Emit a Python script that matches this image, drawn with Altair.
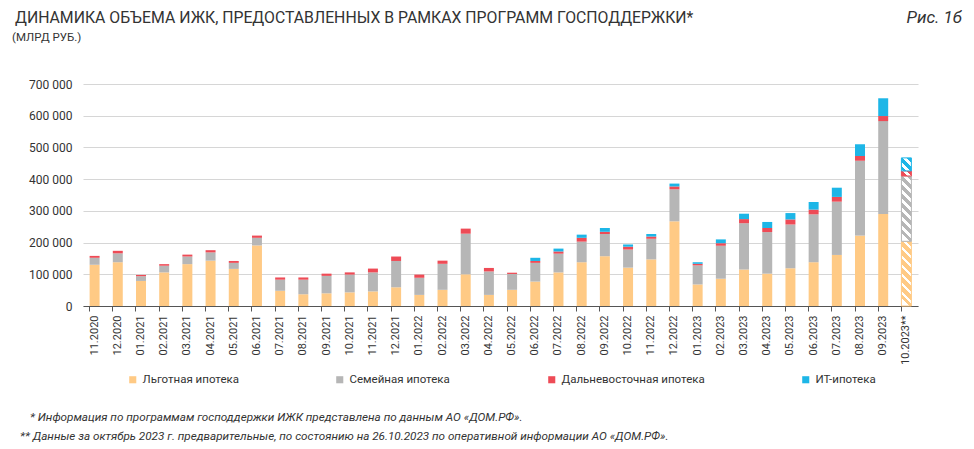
import altair as alt
import pandas as pd

months = ['11.2020', '12.2020',
          '01.2021', '02.2021', '03.2021', '04.2021', '05.2021', '06.2021',
          '07.2021', '08.2021', '09.2021', '10.2021', '11.2021', '12.2021',
          '01.2022', '02.2022', '03.2022', '04.2022', '05.2022', '06.2022',
          '07.2022', '08.2022', '09.2022', '10.2022', '11.2022', '12.2022',
          '01.2023', '02.2023', '03.2023', '04.2023', '05.2023', '06.2023',
          '07.2023', '08.2023', '09.2023', '10.2023**']

series_names = ['Льготная ипотека', 'Семейная ипотека',
                'Дальневосточная ипотека', 'ИТ-ипотека']
colors = ['#FFCA85', '#B6B6B6', '#EE4B56', '#1DB6E7']

lgot = [130, 138, 79, 106, 132, 143, 117, 191, 48, 37, 40, 43, 46, 59, 35, 51, 100, 35,
        51, 77, 106, 138, 157, 121, 147, 267, 68, 86, 115, 102, 119, 138, 161, 222, 290, 204]
semya = [22, 28, 15, 21, 24, 26, 19, 24, 35, 46, 55, 56, 60, 83, 54, 82, 128, 74,
         50, 59, 59, 65, 70, 57, 65, 101, 60, 104, 146, 131, 138, 151, 168, 236, 293, 206]
dalvost = [6, 8, 4, 5, 6, 7, 6, 7, 7, 7, 7, 7, 12, 14, 10, 10, 16, 11,
           4, 6, 7, 12, 7, 9, 7, 9, 5, 8, 13, 13, 16, 15, 15, 15, 16, 16]
it_ipoteka = [0, 0, 0, 0, 0, 0, 0, 0, 0, 0, 0, 0, 0, 0, 0, 0, 0, 0,
              0, 10, 9, 10, 12, 7, 8, 9, 5, 12, 17, 19, 20, 24, 29, 37, 56, 41]

title_text = 'ДИНАМИКА ОБЪЕМА ИЖК, ПРЕДОСТАВЛЕННЫХ В РАМКАХ ПРОГРАММ ГОСПОДДЕРЖКИ*'
unit_text = '(МЛРД РУБ.)'
fig_text = 'Рис. 1б'
note1 = '* Информация по программам господдержки ИЖК представлена по данным АО «ДОМ.РФ».'
note2 = '** Данные за октябрь 2023 г. предварительные, по состоянию на 26.10.2023 по оперативной информации АО «ДОМ.РФ».'

series_vals = [lgot, semya, dalvost, it_ipoteka]
rows = []
for i, m in enumerate(months):
    for k, name in enumerate(series_names):
        rows.append({'month': m, 'series': name, 'order': k,
                     'value': series_vals[k][i] * 1000})
df = pd.DataFrame(rows)

W, H = 835, 222
YMAX = 700000
PI = 0.57
PO = PI / 2
step = W / (len(months) - PI + 2 * PO)
bw = step * (1 - PI)
FONT = 'Roboto'
legend_x = [44, 251, 463, 717]

base = alt.Chart(df).transform_stack(
    stack='value', as_=['y0', 'y1'], groupby=['month'],
    sort=[alt.SortField('order', order='ascending')])

xenc = alt.X('month:N', sort=months,
             scale=alt.Scale(domain=months, paddingInner=PI, paddingOuter=PO),
             axis=alt.Axis(title=None, labelAngle=-90, labelAlign='right',
                           labelBaseline='middle', labelFontSize=11,
                           labelColor='#333', domainColor='#555',
                           tickColor='#555', tickSize=5, bandPosition=0,
                           labelPadding=4, grid=False, labelFont=FONT))
yenc = alt.Y('y0:Q', scale=alt.Scale(domain=[0, YMAX], nice=False),
             axis=alt.Axis(title=None, values=list(range(0, YMAX + 1, 100000)),
                           labelExpr="replace(format(datum.value, ','), ',', ' ')",
                           domain=False, ticks=False, gridColor='#d6d6d6',
                           gridWidth=1.2, labelFontSize=12, labelColor='#333',
                           labelPadding=11, labelFont=FONT))

layers = []
for k, name in enumerate(series_names):
    layers.append(
        base.transform_filter((alt.datum.month != months[-1]) & (alt.datum.series == name))
        .mark_bar().encode(
            x=xenc, y=yenc, y2='y1:Q',
            color=alt.Color('series:N', title=None,
                            scale=alt.Scale(domain=[name], range=[colors[k]]),
                            legend=alt.Legend(orient='none', legendX=legend_x[k], legendY=290,
                                              symbolType='square', symbolSize=50,
                                              symbolStrokeWidth=0, labelFontSize=11.5,
                                              labelFont=FONT, labelColor='#333',
                                              labelLimit=400))))


def stripe_stops(color, h, r, period=9.0, frac=0.6):
    dt = period / (h * (1 + r * r))
    stops = []
    t = 0.0
    while t < 1:
        b = min(t + frac * dt, 1)
        c = min(t + dt, 1)
        stops += [(color, t), (color, b), ('#ffffff', b), ('#ffffff', c)]
        t += dt
    return [alt.GradientStop(color=col, offset=round(o, 5)) for col, o in stops]


for k, name in enumerate(series_names):
    v = series_vals[k][-1] * 1000
    h = max(v / YMAX * H, 1)
    r = bw / h
    grad = alt.LinearGradient(gradient='linear', x1=1, y1=0, x2=1 - r, y2=1,
                              stops=stripe_stops(colors[k], h, r))
    layers.append(
        base.transform_filter((alt.datum.month == months[-1]) & (alt.datum.series == name))
        .mark_bar(fill=grad, stroke=colors[k], strokeWidth=1)
        .encode(x=xenc, y=yenc, y2='y1:Q'))


def txt(s, x, y, size, italic=False, align='left'):
    return alt.Chart(pd.DataFrame({'t': [s]})).mark_text(
        align=align, baseline='middle', fontSize=size,
        fontStyle='italic' if italic else 'normal', color='#333', font=FONT
    ).encode(text='t:N', x=alt.value(x), y=alt.value(y))


layers += [
    txt(title_text, -68, -66, 15.8),
    txt(unit_text, -71, -46, 11.5),
    txt(fig_text, 879, -66, 17, italic=True, align='right'),
    txt(note1, -53, 333, 11.7, italic=True),
    txt(note2, -63, 352, 11.7, italic=True),
]

chart = alt.layer(*layers).resolve_scale(color='independent').resolve_legend(
    color='independent'
).properties(
    width=W, height=H,
    autosize=alt.AutoSizeParams(type='none'),
    padding={'left': 75, 'top': 76, 'right': 45, 'bottom': 140}
).configure_view(stroke=None)

chart.save('out.html', embed_options={'renderer': 'svg', 'actions': False})
